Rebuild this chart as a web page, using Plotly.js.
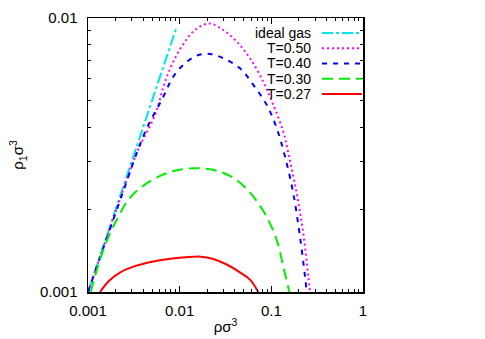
<!DOCTYPE html>
<html>
<head>
<meta charset="utf-8">
<script src="https://cdn.plot.ly/plotly-3.0.1.min.js"></script>
<style>
  html, body { margin: 0; padding: 0; background: #fff; }
  #chart { width: 485px; height: 339px; }
</style>
</head>
<body>
<div id="chart"></div>
<script>
// ---- data (log-log) ----
const idealX = [0.001, 0.0093];
const idealY = [0.001, 0.0093];

const t50X = [0.001, 0.0016, 0.0025, 0.00351, 0.00538, 0.00692, 0.00889, 0.01143, 0.01469, 0.0209, 0.0299, 0.0419, 0.0585, 0.0817, 0.105, 0.135, 0.153, 0.189, 0.223, 0.253, 0.264];
const t50Y = [0.001, 0.00158, 0.00243, 0.0033, 0.00443, 0.00585, 0.00713, 0.0082, 0.00904, 0.00955, 0.00904, 0.0082, 0.00713, 0.00585, 0.00482, 0.00385, 0.00322, 0.00229, 0.00164, 0.00114, 0.001];

const t40X = [0.001, 0.0016, 0.0025, 0.0035, 0.00455, 0.00637, 0.00852, 0.01095, 0.01534, 0.0214, 0.0299, 0.0455, 0.0636, 0.089, 0.1144, 0.141, 0.1737, 0.2054, 0.233, 0.243];
const t40Y = [0.001, 0.00157, 0.0024, 0.0033, 0.00407, 0.00502, 0.00611, 0.00674, 0.00729, 0.00739, 0.00713, 0.00655, 0.0057, 0.00482, 0.00396, 0.00312, 0.00229, 0.00159, 0.00114, 0.001];

const t30X = [0.00107, 0.00135, 0.00174, 0.00214, 0.00275, 0.00385, 0.00637, 0.00966, 0.01626, 0.0275, 0.0419, 0.0636, 0.089, 0.1144, 0.135, 0.157];
const t30Y = [0.001, 0.00131, 0.00164, 0.00188, 0.00217, 0.00242, 0.00267, 0.00279, 0.00283, 0.00275, 0.00256, 0.00223, 0.00188, 0.00155, 0.00124, 0.001];

const t27X = [0.00135, 0.0017, 0.00225, 0.0033, 0.005, 0.0076, 0.0115, 0.017, 0.0233, 0.0326, 0.0455, 0.0585, 0.072];
const t27Y = [0.001, 0.0011, 0.00118, 0.001245, 0.00129, 0.00132, 0.001338, 0.001346, 0.00132, 0.00126, 0.00118, 0.00111, 0.001];

const seriesNames = ['ideal gas', 'T=0.50', 'T=0.40', 'T=0.30', 'T=0.27'];

const xTicks = [0.001, 0.01, 0.1, 1];
const xTickText = ['0.001', '0.01', '0.1', '1'];
const yTicks = [0.001, 0.01];
const yTickText = ['0.001', '0.01'];
const xMinor = [0.002, 0.003, 0.004, 0.005, 0.006, 0.007, 0.008, 0.009,
                0.02, 0.03, 0.04, 0.05, 0.06, 0.07, 0.08, 0.09,
                0.2, 0.3, 0.4, 0.5, 0.6, 0.7, 0.8, 0.9];
const yMinor = [0.002, 0.003, 0.004, 0.005, 0.006, 0.007, 0.008, 0.009];

// ---- styles ----
const styles = [
  { color: '#00e5e5', dash: '11px,3px,3px,3px' },
  { color: '#ff00ff', dash: '2px,3px' },
  { color: '#0000ff', dash: '5px,6px' },
  { color: '#00ee00', dash: '11px,6px' },
  { color: '#ff0000', dash: 'solid' }
];
const xs = [idealX, t50X, t40X, t30X, t27X];
const ys = [idealY, t50Y, t40Y, t30Y, t27Y];

const traces = xs.map((x, i) => ({
  x: x,
  y: ys[i],
  type: 'scatter',
  mode: 'lines',
  name: seriesNames[i],
  line: { color: styles[i].color, width: 2, dash: styles[i].dash, shape: 'spline', smoothing: 1 },
  showlegend: false,
  hoverinfo: 'skip'
}));

// legend drawn by hand: text right-aligned, sample line on the right
const legTop = 0.945, legStep = 0.0555;
const annotations = seriesNames.map((n, i) => ({
  xref: 'paper', yref: 'paper',
  x: 0.815, y: legTop - i * legStep,
  xanchor: 'right', yanchor: 'middle',
  text: n, showarrow: false,
  borderpad: 0,
  font: { size: 14, color: '#000' }
}));
const shapes = seriesNames.map((n, i) => ({
  type: 'line', xref: 'paper', yref: 'paper',
  x0: 0.851, x1: 0.996,
  y0: legTop - i * legStep, y1: legTop - i * legStep,
  line: { color: styles[i].color, width: 2, dash: styles[i].dash }
}));

const axisCommon = {
  type: 'log',
  showgrid: false,
  zeroline: false,
  showline: true,
  linecolor: '#000',
  linewidth: 1.5,
  mirror: 'ticks',
  ticks: 'inside',
  ticklen: 6,
  tickcolor: '#000',
  tickfont: { size: 15, color: '#000' },
  tickmode: 'array'
};

const layout = {
  width: 485,
  height: 339,
  margin: { l: 88, r: 122, t: 18, b: 47 },
  paper_bgcolor: '#fff',
  plot_bgcolor: '#fff',
  font: { family: 'Liberation Sans, Arial, sans-serif', color: '#000' },
  showlegend: false,
  xaxis: Object.assign({}, axisCommon, {
    range: [-3, 0],
    tickvals: xTicks,
    ticktext: xTickText,
    ticklabelstandoff: 4,
    minor: { tickmode: 'array', tickvals: xMinor, ticks: 'inside', ticklen: 3, tickcolor: '#000', showgrid: false },
    title: { text: 'ρσ<sup>3</sup>', font: { size: 15 }, standoff: 4 }
  }),
  yaxis: Object.assign({}, axisCommon, {
    range: [-3, -2],
    tickvals: yTicks,
    ticktext: yTickText,
    ticklabelstandoff: 6,
    minor: { tickmode: 'array', tickvals: yMinor, ticks: 'inside', ticklen: 3, tickcolor: '#000', showgrid: false },
    title: { text: 'ρ<sub>1</sub>σ<sup>3</sup>', font: { size: 15 }, standoff: 12 }
  }),
  annotations: annotations,
  shapes: shapes
};

Plotly.newPlot('chart', traces, layout, { staticPlot: true, displayModeBar: false });
</script>
</body>
</html>
